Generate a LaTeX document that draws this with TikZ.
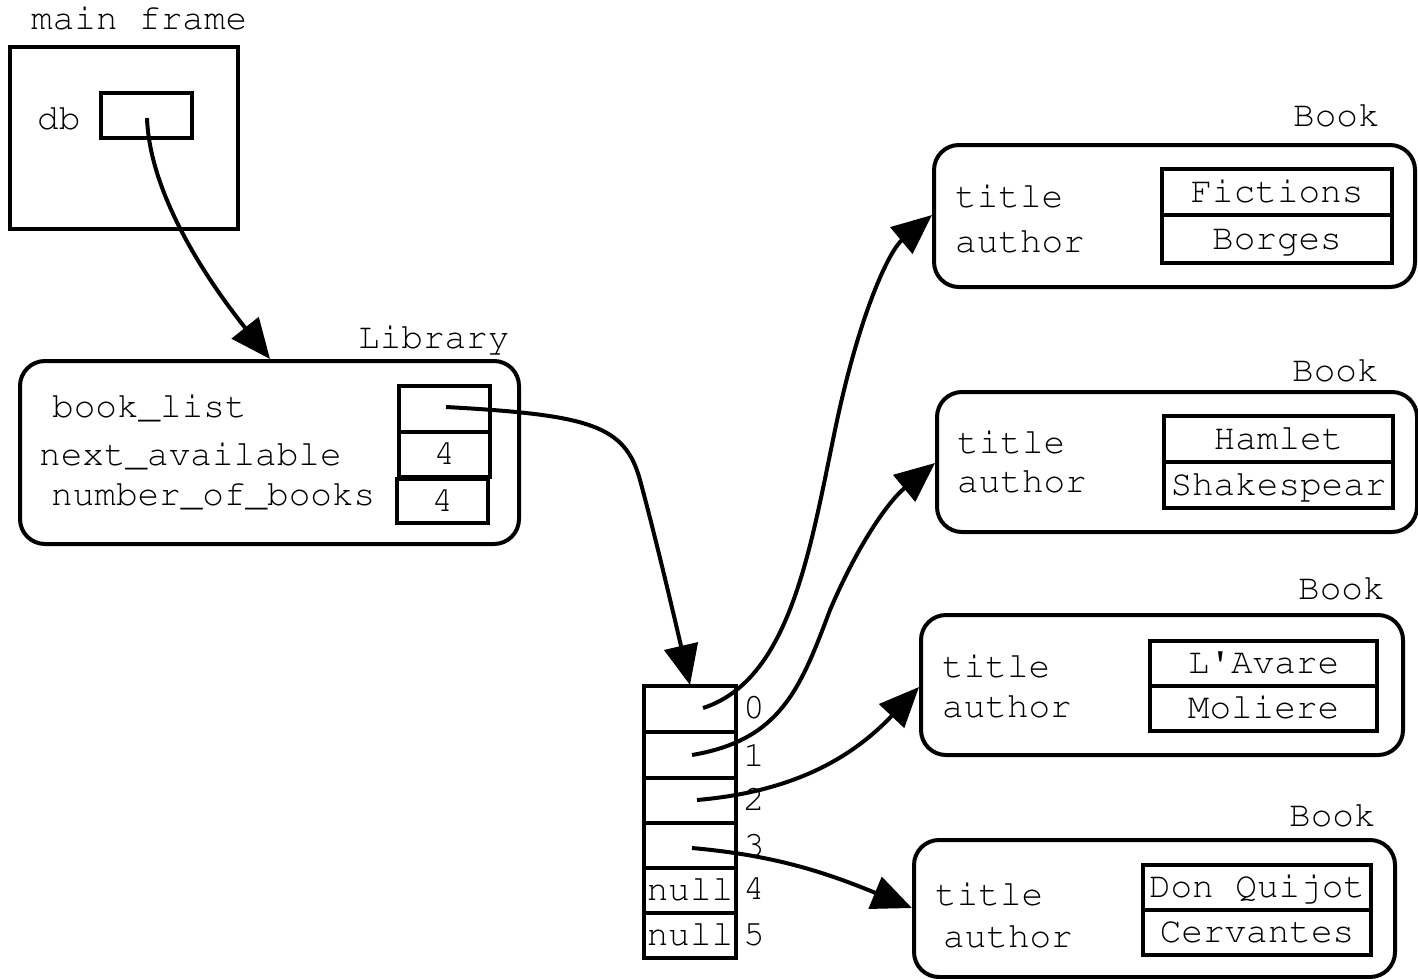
\documentclass[tikz,border=0pt]{standalone}
\usepackage[T1]{fontenc}
\usepackage{courier}
\usetikzlibrary{arrows.meta}
\newcommand\courfont{\fontencoding{T1}\fontfamily{pcr}\fontseries{m}\fontshape{n}\fontsize{36}{40}\selectfont}
\begin{document}
\begin{tikzpicture}[x=1pt,y=-1pt,
 txt/.style={anchor=base west,inner sep=0pt,font=\courfont},
 frm/.style={draw,line width=4pt,inner sep=0pt},
 obj/.style={draw,line width=4pt,rounded corners=25pt,inner sep=0pt},
 cell/.style={draw,line width=4pt,inner sep=0pt,minimum width=91pt,minimum height=45.5pt,
   text height=26pt,text depth=6pt,font=\courfont},
 ptr/.style={line width=4pt,-{Triangle[length=40pt,width=34pt]}}
]
\useasboundingbox (0,0) rectangle (1418,979);

% main frame
\node[txt] (mft) at (31,30) {main frame};
\node[frm,minimum width=228pt,minimum height=182pt] (mf) at (124,138) {};
\node[txt] (dbt) at (37,130) {db};
\node[cell,minimum height=45pt] (db) at (146.5,115.5) {};

% Library
\node[txt] (libl) at (358,348) {Library};
\node[obj,minimum width=499pt,minimum height=183pt] (lib) at (269.5,452.5) {};
\node[txt] (f1) at (52,417) {book\_list};
\node[txt] (f2) at (39,465) {next\_available};
\node[txt] (f3) at (51,505) {number\_of\_books};
\node[cell,minimum height=46pt] (l1) at (444.5,409) {};
\node[cell] (l2) at (444.5,454.5) {4};
\node[cell,minimum height=44pt] (l3) at (442.5,501) {4};

% array
\node[cell,minimum width=92pt] (c0) at (690,709) {};
\node[cell,minimum width=92pt] (c1) at (690,755) {};
\node[cell,minimum width=92pt] (c2) at (690,800.5) {};
\node[cell,minimum width=92pt] (c3) at (690,845.5) {};
\node[cell,minimum width=92pt] (c4) at (690,890.5) {null};
\node[cell,minimum width=92pt] (c5) at (690,935.5) {null};
\node[txt] (i0) at (743,718) {0};
\node[txt] (i1) at (743,766) {1};
\node[txt] (i2) at (743,810) {2};
\node[txt] (i3) at (743,856) {3};
\node[txt] (i4) at (743,899) {4};
\node[txt] (i5) at (743,945) {5};

% Book 1
\node[txt] (bk1) at (1293,127) {Book};
\node[obj,minimum width=481pt,minimum height=142pt] (book1) at (1174.5,216) {};
\node[txt] (t1) at (955,207) {title};
\node[txt] (a1) at (955,252) {author};
\node[cell,minimum width=230pt,minimum height=46pt] (v1a) at (1277,192) {Fictions};
\node[cell,minimum width=230pt,minimum height=48pt] (v1b) at (1277,239) {Borges};

% Book 2
\node[txt] (bk2) at (1292,381) {Book};
\node[obj,minimum width=480pt,minimum height=140pt] (book2) at (1177,462) {};
\node[txt] (t2) at (957,453) {title};
\node[txt] (a2) at (957,492) {author};
\node[cell,minimum width=229pt,minimum height=46pt] (v2a) at (1278.5,439) {Hamlet};
\node[cell,minimum width=229pt,minimum height=46pt] (v2b) at (1278.5,485) {Shakespear};

% Book 3
\node[txt] (bk3) at (1298,599) {Book};
\node[obj,minimum width=482pt,minimum height=140pt] (book3) at (1162,685) {};
\node[txt] (t3) at (942,677) {title};
\node[txt] (a3) at (942,717) {author};
\node[cell,minimum width=227pt,minimum height=45pt] (v3a) at (1263.5,663.5) {L\textquotesingle Avare};
\node[cell,minimum width=227pt,minimum height=45pt] (v3b) at (1263.5,708.5) {Moliere};

% Book 4
\node[txt] (bk4) at (1289,826) {Book};
\node[obj,minimum width=481pt,minimum height=137pt] (book4) at (1154.5,908.5) {};
\node[txt] (t4) at (935,905) {title};
\node[txt] (a4) at (943,947) {author};
\node[cell,minimum width=228pt,minimum height=45pt] (v4a) at (1257,887.5) {Don Quijot};
\node[cell,minimum width=228pt,minimum height=45pt] (v4b) at (1257,932.5) {Cervantes};

% pointer coordinates
\coordinate (pdb) at (147,118);
\coordinate (tlib) at (270,359);
\coordinate (pbl) at (446,407);
\coordinate (tarr) at (690,685);
\coordinate (p0) at (703,708);
\coordinate (tb1) at (932,215);
\coordinate (p1) at (692,755);
\coordinate (tb2) at (935,463);
\coordinate (p2) at (697,800);
\coordinate (tb3) at (919,687);
\coordinate (p3) at (692,848);
\coordinate (tb4) at (912,908);

\draw[ptr] (pdb) .. controls (150,200) and (215,290) .. (tlib);
\draw[ptr] (pbl) .. controls (590,415) and (625,425) .. (640,480)
   .. controls (655,535) and (675,620) .. (tarr);
\draw[ptr] (p0) .. controls (790,680) and (810,550) .. (835,430)
   .. controls (860,310) and (890,250) .. (tb1);
\draw[ptr] (p1) .. controls (780,740) and (800,690) .. (830,610)
   .. controls (860,540) and (890,500) .. (tb2);
\draw[ptr] (p2) .. controls (790,792) and (850,760) .. (tb3);
\draw[ptr] (p3) .. controls (770,855) and (820,870) .. (tb4);
\end{tikzpicture}
\end{document}
